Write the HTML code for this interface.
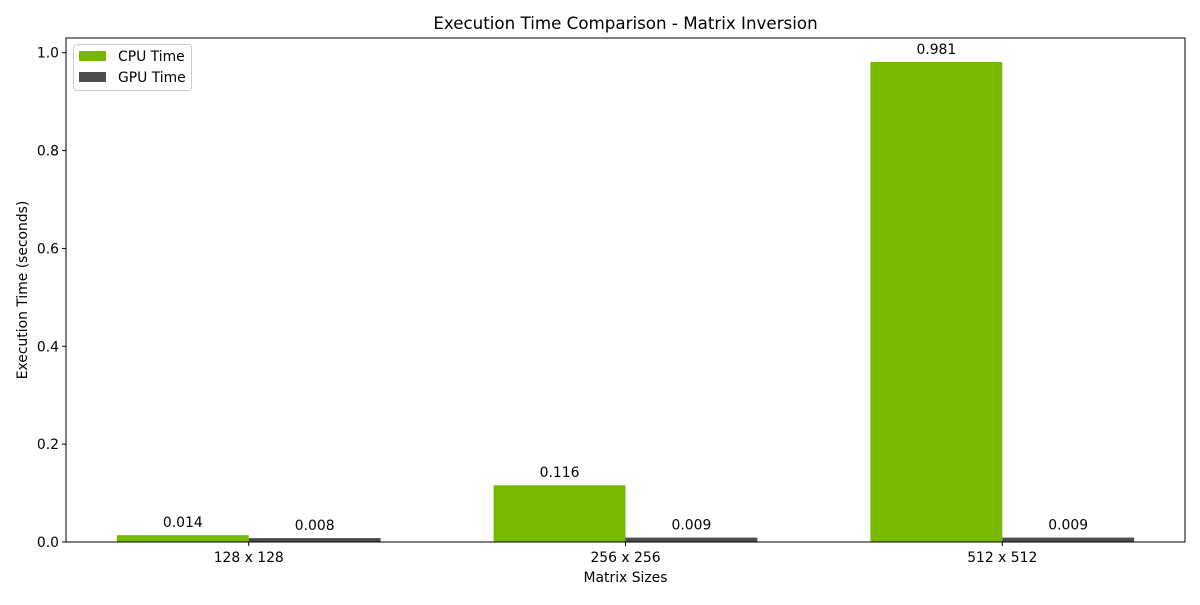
<!DOCTYPE html>
<html><head><meta charset="utf-8"><style>
body{margin:0;background:#fff}
svg text{font-family:"DejaVu Sans","Liberation Sans",sans-serif;fill:#000}
</style></head><body>
<svg id="chart" width="1200" height="600" xmlns="http://www.w3.org/2000/svg"></svg>
<script>
const categories = ["128 x 128", "256 x 256", "512 x 512"];
const cpuTimes = [0.014, 0.116, 0.981];
const gpuTimes = [0.008, 0.009, 0.009];
const yTicks = [0.0, 0.2, 0.4, 0.6, 0.8, 1.0];

const L=66,R=1185,T=38,B=542;
const xMin=-0.485,xMax=2.485,yMax=Math.max(...cpuTimes,...gpuTimes)*1.05;
const xs=v=>L+(v-xMin)/(xMax-xMin)*(R-L);
const ys=v=>B-v/yMax*(B-T);
const W=0.35;
const FS=13.9;
const svg=document.getElementById('chart');
const NS="http://www.w3.org/2000/svg";
function mk(tag,attrs,name,text){const e=document.createElementNS(NS,tag);for(const k in attrs)e.setAttribute(k,attrs[k]);


if(text!==undefined)e.textContent=text;svg.appendChild(e);return e;}

mk('text',{x:(L+R)/2,y:29,'text-anchor':'middle','font-size':16.7},'chart-title','Execution Time Comparison - Matrix Inversion');

function bars(vals,off,color,series){
 vals.forEach((v,i)=>{
  const x0=xs(i+off),x1=xs(i+off+W);
  mk('rect',{x:x0,y:ys(v),width:x1-x0,height:B-ys(v),fill:color},series+'-bar-'+i);
  mk('text',{x:(x0+x1)/2,y:ys(v)-8,'text-anchor':'middle','font-size':FS},series+'-value-label-'+i,v.toFixed(3));
 });
}
bars(cpuTimes,-W,'#76b900','cpu');
bars(gpuTimes,0,'#4d4d4d','gpu');

mk('rect',{x:L,y:T,width:R-L,height:B-T,fill:'none',stroke:'#000','stroke-width':1},'plot-frame');

yTicks.forEach(t=>{const y=ys(t);
 mk('line',{x1:L-4,x2:L,y1:y,y2:y,stroke:'#000'},'y-tick');
 mk('text',{x:L-7,y:y+5,'text-anchor':'end','font-size':FS},'y-tick-label',t.toFixed(1));
});
categories.forEach((c,i)=>{const x=xs(i);
 mk('line',{x1:x,x2:x,y1:B,y2:B+4,stroke:'#000'},'x-tick');
 mk('text',{x:x,y:B+20,'text-anchor':'middle','font-size':FS},'x-tick-label',c);
});
mk('text',{x:(L+R)/2,y:582,'text-anchor':'middle','font-size':FS},'x-axis-title','Matrix Sizes');
mk('text',{x:27,y:(T+B)/2,'text-anchor':'middle','font-size':FS,transform:`rotate(-90 27 ${(T+B)/2})`},'y-axis-title','Execution Time (seconds)');

mk('rect',{x:73.5,y:44.5,width:118,height:46,rx:3,fill:'#fff',stroke:'#ccc'},'legend-box');
mk('rect',{x:79,y:51,width:27,height:10,fill:'#76b900'},'legend-swatch-cpu');
mk('text',{x:118,y:61,'font-size':FS},'legend-label-cpu','CPU Time');
mk('rect',{x:79,y:72,width:27,height:10,fill:'#4d4d4d'},'legend-swatch-gpu');
mk('text',{x:118,y:82,'font-size':FS},'legend-label-gpu','GPU Time');
</script>
</body></html>
